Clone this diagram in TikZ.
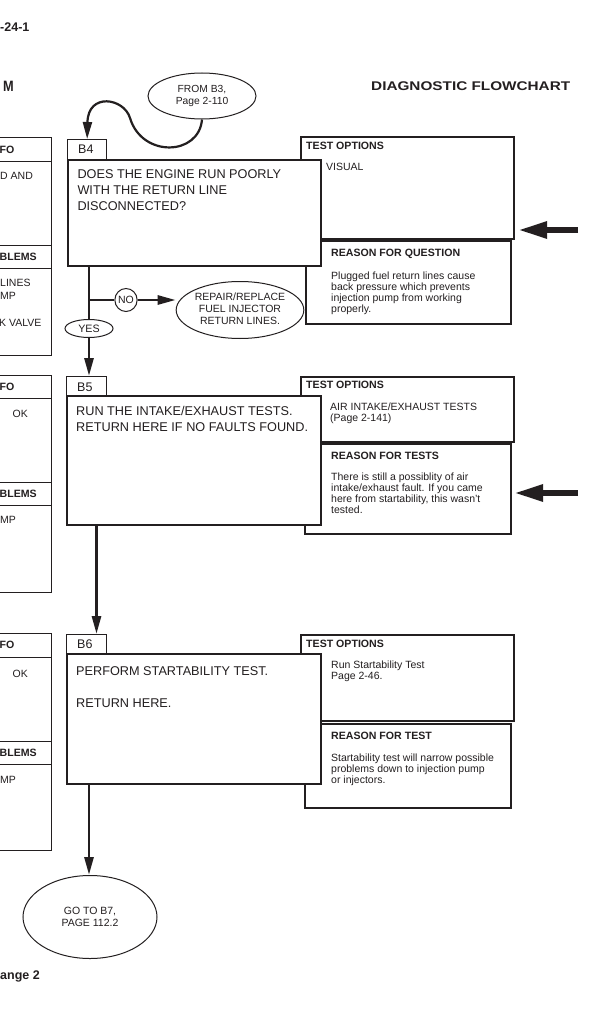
\documentclass[tikz,border=0pt]{standalone}
\usepackage{fontspec}
\setmainfont{Liberation Sans}
\usetikzlibrary{arrows.meta,shapes.geometric}
\definecolor{ink}{HTML}{231F20}
\tikzset{
  mainbox/.style={draw=ink, line width=2.4pt, fill=white, anchor=north west, inner sep=0pt},
  tabbox/.style={draw=ink, line width=1.3pt, fill=white, anchor=north west, inner sep=0pt},
  sidebox/.style={draw=ink, line width=2.2pt, fill=white, anchor=north west, inner sep=0pt},
  oval/.style={draw=ink, line width=1pt, ellipse, fill=white, inner sep=0pt, align=center, text=ink},
  bigtxt/.style={font=\fontsize{12.7}{16}\selectfont, text=ink, anchor=north west, inner sep=0pt, align=left},
  tabtxt/.style={font=\fontsize{12.5}{15}\selectfont, text=ink, anchor=north west, inner sep=0pt},
  smtxt/.style={font=\fontsize{10.5}{11}\selectfont, text=ink, anchor=north west, inner sep=0pt, align=left},
  hdtxt/.style={font=\bfseries\fontsize{10.6}{12}\selectfont, text=ink, anchor=north west, inner sep=0pt},
  ovaltxt/.style={font=\fontsize{10.5}{12}\selectfont},
  pagetxt/.style={font=\bfseries\fontsize{12.5}{15}\selectfont, text=ink, anchor=north west, inner sep=0pt},
  flowline/.style={draw=ink, line width=2.8pt},
  flow/.style={flowline, -{Triangle[length=18pt,width=9pt]}},
  curvearrow/.style={draw=ink, line width=2.2pt, -{Triangle[length=17pt,width=9pt]}},
  bigarrow/.style={draw=ink, line width=6pt, -{Triangle[length=29pt,width=16pt]}},
  thinbox/.style={draw=ink, line width=0.9pt}
}
\begin{document}
\begin{tikzpicture}[x=1pt,y=-1pt]
\useasboundingbox (0,0) rectangle (615,1027);
\fill[white] (0,0) rectangle (615,1027);

% page texts
\node[pagetxt] (pgnum) at (0,22.7) {-24-1};
\node[pagetxt, font=\bfseries\fontsize{15}{18}\selectfont] (sect) at (3,81) {\scalebox{0.85}[1]{M}};
\node[pagetxt, font=\bfseries\fontsize{12.6}{15}\selectfont] (title) at (371,81.7) {\scalebox{1.215}[1]{DIAGNOSTIC FLOWCHART}};
\node[pagetxt] (chg) at (0,971) {ange 2};

% left partial boxes
\draw[thinbox] (-5,137) rectangle (51,355);
\draw[thinbox] (-5,161) -- (51,161) (-5,245) -- (51,245) (-5,268) -- (51,268);
\node[hdtxt] (l1a) at (-0.5,146.2) {FO};
\node[smtxt] (l1b) at (0,172.2) {D AND};
\node[hdtxt] (l1c) at (-0.5,252.5) {BLEMS};
\node[smtxt] (l1d) at (0,279.3) {LINES};
\node[smtxt] (l1e) at (0,292.5) {MP};
\node[smtxt] (l1f) at (-1,319) {K VALVE};

\draw[thinbox] (-5,375) rectangle (51,592);
\draw[thinbox] (-5,398) -- (51,398) (-5,482) -- (51,482) (-5,505) -- (51,505);
\node[hdtxt] (l2a) at (-0.5,383.2) {FO};
\node[smtxt] (l2b) at (12.5,410) {OK};
\node[hdtxt] (l2c) at (-0.5,489.8) {BLEMS};
\node[smtxt] (l2d) at (0,516.2) {MP};

\draw[thinbox] (-5,633) rectangle (51,850);
\draw[thinbox] (-5,657) -- (51,657) (-5,741) -- (51,741) (-5,764) -- (51,764);
\node[hdtxt] (l3a) at (-0.5,641.2) {FO};
\node[smtxt] (l3b) at (12.5,669.5) {OK};
\node[hdtxt] (l3c) at (-0.5,748.9) {BLEMS};
\node[smtxt] (l3d) at (0,776.2) {MP};

% right side boxes
\node[sidebox, minimum width=213, minimum height=102] (to1) at (300,136) {};
\node[sidebox, minimum width=205, minimum height=83] (r1) at (305,240) {};
\node[sidebox, minimum width=213, minimum height=65] (to2) at (300,376) {};
\node[sidebox, minimum width=206, minimum height=90] (r2) at (304,443) {};
\node[sidebox, minimum width=213, minimum height=86] (to3) at (300,634) {};
\node[sidebox, minimum width=206, minimum height=84] (r3) at (304,723) {};

% tabs and main boxes
\node[tabbox, minimum width=39, minimum height=20] (b4tab) at (67,139) {};
\node[mainbox, minimum width=253, minimum height=106] (b4) at (67,159) {};
\node[tabbox, minimum width=40, minimum height=19] (b5tab) at (66,376) {};
\node[mainbox, minimum width=254, minimum height=129] (b5) at (66,395) {};
\node[tabbox, minimum width=40, minimum height=19] (b6tab) at (66,634) {};
\node[mainbox, minimum width=254, minimum height=130] (b6) at (66,653) {};

\node[tabtxt] (b4lbl) at (78,145) {B4};
\node[tabtxt] (b5lbl) at (77,382.7) {B5};
\node[tabtxt] (b6lbl) at (77,640) {B6};

\node[bigtxt] (b4txt) at (77.3,169.3) {DOES THE ENGINE RUN POORLY\\WITH THE RETURN LINE\\DISCONNECTED?};
\node[bigtxt] (b5txt) at (76,405.7) {RUN THE INTAKE/EXHAUST TESTS.\\RETURN HERE IF NO FAULTS FOUND.};
\node[bigtxt] (b6txt) at (76,666) {PERFORM STARTABILITY TEST.\\[16pt]RETURN HERE.};

% side texts
\node[hdtxt] (to1h) at (306,141.7) {TEST OPTIONS};
\node[smtxt] (to1t) at (326,163.3) {VISUAL};
\node[hdtxt] (r1h) at (331,249.3) {REASON FOR QUESTION};
\node[smtxt] (r1t) at (331,271.7) {Plugged fuel return lines cause\\back pressure which prevents\\injection pump from working\\properly.};

\node[hdtxt] (to2h) at (306,381) {TEST OPTIONS};
\node[smtxt] (to2t) at (330,402.7) {AIR INTAKE/EXHAUST TESTS\\(Page 2-141)};
\node[hdtxt] (r2h) at (331,451.7) {REASON FOR TESTS};
\node[smtxt] (r2t) at (331,472.7) {There is still a possiblity of air\\intake/exhaust fault. If you came\\here from startability, this wasn't\\tested.};

\node[hdtxt] (to3h) at (306,640) {TEST OPTIONS};
\node[smtxt] (to3t) at (331,661) {Run Startability Test\\Page 2-46.};
\node[hdtxt] (r3h) at (331,732) {REASON FOR TEST};
\node[smtxt] (r3t) at (331,753.3) {Startability test will narrow possible\\problems down to injection pump\\or injectors.};

% ovals
\node[oval, minimum width=108, minimum height=46, font=\fontsize{10.3}{12.5}\selectfont] (from) at (202,96) {FROM B3,\\Page 2-110};
\node[oval, minimum width=22, minimum height=23, font=\fontsize{10.5}{12}\selectfont] (no) at (126,300) {NO};
\node[oval, minimum width=111, minimum height=57, ovaltxt] (repair) at (240,310) {\raisebox{2pt}{\begin{tabular}{@{}c@{}}REPAIR/REPLACE\\FUEL INJECTOR\\RETURN LINES.\end{tabular}}};
\node[oval, minimum width=48, minimum height=18, font=\fontsize{10.7}{12}\selectfont] (yes) at (89,328.5) {YES};
\node[oval, minimum width=134, minimum height=83, font=\fontsize{10.5}{12}\selectfont] (go) at (90,917) {GO TO B7,\\PAGE 112.2};

% connectors
\coordinate (bend) at (130,118);
\draw[curvearrow] (from.south) .. controls (199,156) and (142,158) .. (bend)
  .. controls (124,98) and (88,92) .. (b4tab.north);

\coordinate (br) at (89,300);
\draw[flowline] (b4.south -| br) -- (yes.north);
\draw[flowline] (br) -- (no.west);
\draw[flow] (no.east) -- (no.east -| repair.west);
\draw[flow] (yes.south) -- (b5tab.north -| yes.south);

\coordinate (b5x) at (96.5,0);
\draw[flow] (b5.south -| b5x) -- (b6tab.north -| b5x);
\coordinate (b6x) at (89,0);
\draw[flow] (b6.south -| b6x) -- (go.north -| b6x);

\coordinate (in1) at (578,230);
\draw[bigarrow, shorten >=3pt] (in1) -- (to1.east |- in1);
\coordinate (in2) at (578,493);
\draw[bigarrow, shorten >=2pt] (in2) -- (r2.east |- in2);
\end{tikzpicture}
\end{document}
